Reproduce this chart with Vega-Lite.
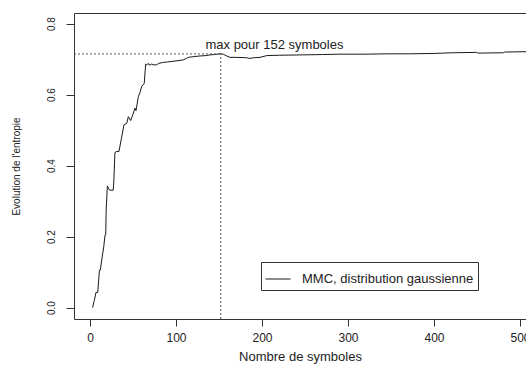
{
  "$schema": "https://vega.github.io/schema/vega-lite/v6.json",
  "width": 452,
  "height": 306,
  "autosize": {"type": "none"},
  "padding": {"left": 74, "top": 13, "right": 0, "bottom": 48},
  "background": "white",
  "config": {
    "font": "Liberation Sans",
    "view": {"stroke": null},
    "axis": {
      "grid": false,
      "domainColor": "#333",
      "tickColor": "#333",
      "labelColor": "#222",
      "titleColor": "#222",
      "labelFontSize": 12,
      "titleFontSize": 13,
      "titleFontWeight": "normal",
      "tickSize": 7,
      "domainWidth": 1,
      "tickWidth": 1
    }
  },
  "datasets": {
    "entropy": [
      {"n": 3, "h": 0}, {"n": 5, "h": 0.02}, {"n": 7, "h": 0.043}, {"n": 9, "h": 0.043},
      {"n": 11, "h": 0.106}, {"n": 12, "h": 0.106}, {"n": 14, "h": 0.14}, {"n": 16, "h": 0.172},
      {"n": 17.5, "h": 0.205}, {"n": 18.3, "h": 0.205}, {"n": 18.8, "h": 0.275}, {"n": 20.2, "h": 0.343},
      {"n": 21.5, "h": 0.336}, {"n": 22.8, "h": 0.331}, {"n": 27, "h": 0.331}, {"n": 27.8, "h": 0.36},
      {"n": 29, "h": 0.437}, {"n": 31, "h": 0.44}, {"n": 33.7, "h": 0.44}, {"n": 36, "h": 0.47},
      {"n": 39.5, "h": 0.515}, {"n": 42.7, "h": 0.519}, {"n": 44.6, "h": 0.538}, {"n": 47.3, "h": 0.527},
      {"n": 50, "h": 0.545}, {"n": 52.3, "h": 0.562}, {"n": 53.5, "h": 0.555}, {"n": 56.2, "h": 0.594},
      {"n": 58, "h": 0.605}, {"n": 60.1, "h": 0.623}, {"n": 63.1, "h": 0.632}, {"n": 64.7, "h": 0.686},
      {"n": 66, "h": 0.684}, {"n": 67.8, "h": 0.688}, {"n": 69, "h": 0.683}, {"n": 71.7, "h": 0.686},
      {"n": 74, "h": 0.684}, {"n": 77.5, "h": 0.684}, {"n": 80, "h": 0.688}, {"n": 85.3, "h": 0.691},
      {"n": 90, "h": 0.692}, {"n": 93, "h": 0.693}, {"n": 100, "h": 0.695}, {"n": 108.5, "h": 0.698},
      {"n": 112, "h": 0.702}, {"n": 114.3, "h": 0.705}, {"n": 120, "h": 0.707}, {"n": 127.9, "h": 0.709},
      {"n": 135, "h": 0.71}, {"n": 139.5, "h": 0.712}, {"n": 145, "h": 0.713}, {"n": 151.2, "h": 0.715},
      {"n": 155, "h": 0.714}, {"n": 158, "h": 0.71}, {"n": 162.8, "h": 0.705}, {"n": 170, "h": 0.705},
      {"n": 182, "h": 0.704}, {"n": 186, "h": 0.702}, {"n": 190, "h": 0.704}, {"n": 197.7, "h": 0.705},
      {"n": 205.5, "h": 0.71}, {"n": 220, "h": 0.711}, {"n": 248, "h": 0.712}, {"n": 270, "h": 0.713},
      {"n": 290.7, "h": 0.714}, {"n": 320, "h": 0.714}, {"n": 345, "h": 0.715}, {"n": 370, "h": 0.715},
      {"n": 399, "h": 0.716}, {"n": 410, "h": 0.717}, {"n": 422.5, "h": 0.718}, {"n": 449.6, "h": 0.719},
      {"n": 451, "h": 0.717}, {"n": 480.6, "h": 0.718}, {"n": 482, "h": 0.72}, {"n": 507, "h": 0.721}
    ]
  },
  "resolve": {"axis": {"x": "independent"}},
  "layer": [
    {
      "data": {"name": "entropy"},
      "transform": [{"calculate": "'MMC, distribution gaussienne'", "as": "serie"}],
      "mark": {"type": "line", "strokeWidth": 1, "clip": true, "interpolate": "linear"},
      "encoding": {
        "x": {
          "field": "n", "type": "quantitative",
          "scale": {"domain": [-18.6, 507], "nice": false, "zero": false},
          "axis": {"values": [0, 100, 200, 300, 400, 500], "title": "Nombre de symboles", "labelPadding": 6, "titlePadding": 7}
        },
        "y": {
          "field": "h", "type": "quantitative",
          "scale": {"domain": [-0.032, 0.83], "nice": false, "zero": false},
          "axis": {"values": [0, 0.2, 0.4, 0.6, 0.8], "format": ".1f", "labelAngle": -90, "labelAlign": "center", "labelBaseline": "bottom", "labelFontSize": 10, "tickSize": 8, "labelPadding": 10, "title": "Evolution de l'entropie", "titleFontSize": 10, "titlePadding": 25}
        },
        "color": {
          "field": "serie", "type": "nominal",
          "scale": {"range": ["#1a1a1a"]},
          "legend": {
            "title": null, "orient": "none", "legendX": 187, "legendY": 249,
            "symbolType": "stroke", "symbolSize": 625, "symbolStrokeColor": "#777", "symbolStrokeWidth": 1,
            "labelFontSize": 13, "labelColor": "#222", "labelOffset": 11, "labelLimit": 400,
            "strokeColor": "#333", "fillColor": "white", "padding": 4
          }
        }
      }
    },
    {
      "data": {"values": [{"x1": -18.6, "x2": 152, "y": 0.7147}]},
      "mark": {"type": "rule", "strokeDash": [2, 2], "color": "#555", "strokeWidth": 1},
      "encoding": {
        "x": {"field": "x1", "type": "quantitative", "axis": {"orient": "top", "labels": false, "ticks": false, "title": null, "domain": true}},
        "x2": {"field": "x2"},
        "y": {"field": "y", "type": "quantitative"}
      }
    },
    {
      "data": {"values": [{"x": 152, "y1": -0.032, "y2": 0.7147}]},
      "mark": {"type": "rule", "strokeDash": [2, 2], "color": "#555", "strokeWidth": 1},
      "encoding": {
        "x": {"field": "x", "type": "quantitative", "axis": null},
        "y": {"field": "y1", "type": "quantitative"},
        "y2": {"field": "y2"}
      }
    },
    {
      "data": {"values": [{"x": 214.5, "y": 0.741, "label": "max pour 152 symboles"}]},
      "mark": {"type": "text", "fontSize": 13, "color": "#222", "align": "center", "baseline": "middle"},
      "encoding": {
        "x": {"field": "x", "type": "quantitative", "axis": null},
        "y": {"field": "y", "type": "quantitative"},
        "text": {"field": "label"}
      }
    }
  ]
}
